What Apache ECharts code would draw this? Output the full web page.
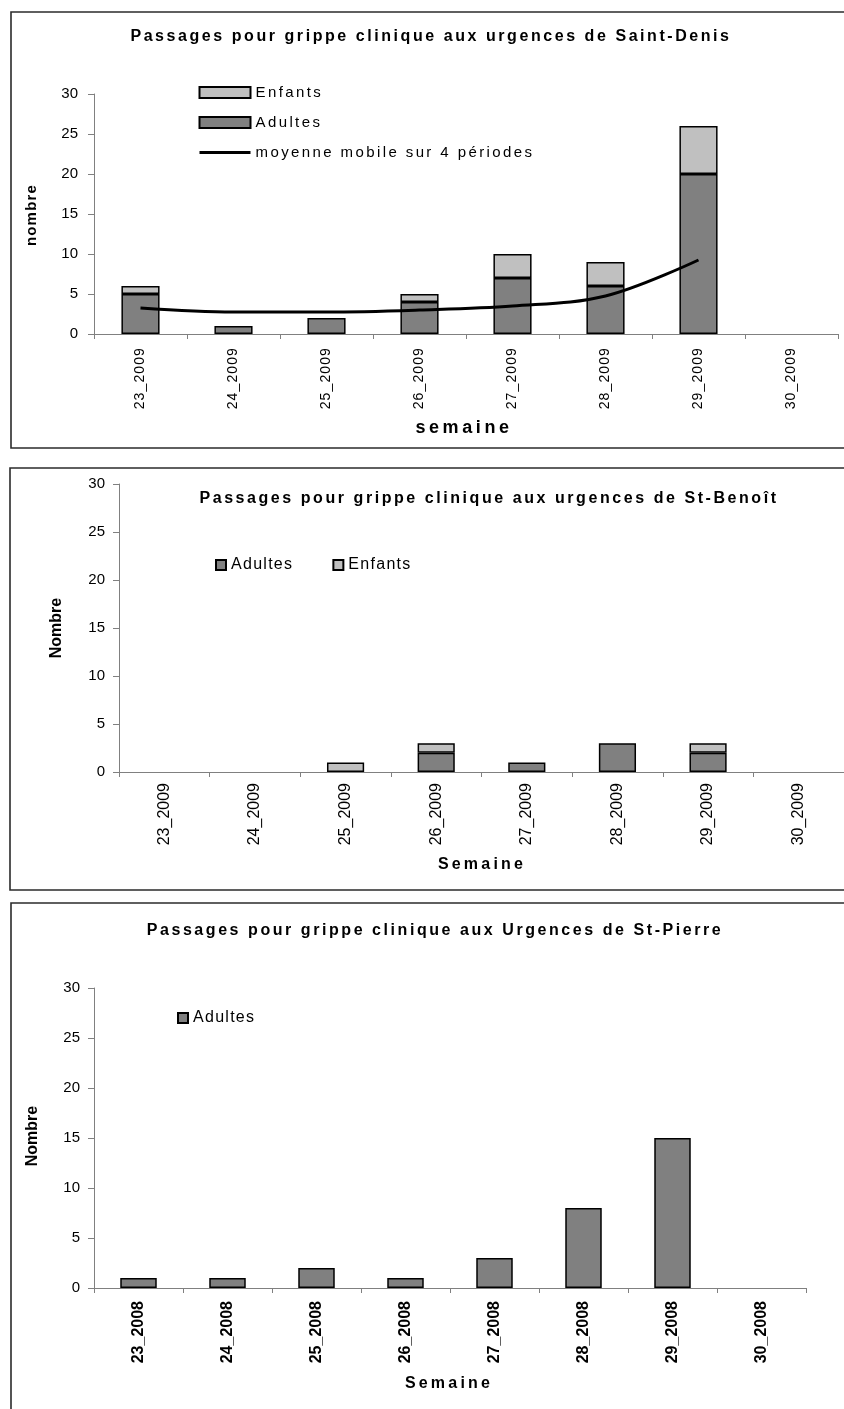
<!DOCTYPE html>
<html>
<head>
<meta charset="utf-8">
<script src="https://cdn.jsdelivr.net/npm/echarts@6/dist/echarts.min.js"></script>
<style>
html,body{margin:0;padding:0;background:#fff;}
#chart{width:844px;height:1409px;}
</style>
</head>
<body>
<div id="chart"></div>
<script>
// ---------------- DATA ----------------
const weeks2009 = ['23_2009','24_2009','25_2009','26_2009','27_2009','28_2009','29_2009','30_2009'];
const weeks2008 = ['23_2008','24_2008','25_2008','26_2008','27_2008','28_2008','29_2008','30_2008'];
const yMin = 0, yMax = 30, yStep = 5;

const titleStDenis = 'Passages pour grippe clinique aux urgences de Saint-Denis';
const titleStBenoit = 'Passages pour grippe clinique aux urgences de St-Benoît';
const titleStPierre = 'Passages pour grippe clinique aux Urgences de St-Pierre';

const stDenisAdultes = [5, 1, 2, 4, 7, 6, 20, null];
const stDenisEnfants = [1, 0, 0, 1, 3, 3, 6, null];
const stDenisMoyenne = [3.25, 2.75, 2.75, 3.0, 3.5, 4.75, 9.25, null];

const stBenoitAdultes = [0, 0, 0, 2, 1, 3, 2, null];
const stBenoitEnfants = [0, 0, 1, 1, 0, 0, 1, null];

const stPierreAdultes = [1, 1, 2, 1, 3, 8, 15, null];

// ---------------- TEXT SPACING (rendering tweak) ----------------
// Family token decides extra letter spacing (in em):
// Arial -> 0, Helvetica -> 0.08, Helvetica Neue -> 0.16, Liberation Sans alone -> 0.2
(function () {
  const proto = CanvasRenderingContext2D.prototype;
  function applySpacing(ctx) {
    if (!('letterSpacing' in ctx)) return;
    const f = ctx.font || '';
    const m = f.match(/(\d+(?:\.\d+)?)px/);
    const size = m ? parseFloat(m[1]) : 12;
    let k = 0;
    if (/Helvetica Neue/.test(f)) k = 0.16;
    else if (/Helvetica/.test(f)) k = 0.08;
    else if (/Arial/.test(f)) k = 0;
    else if (/Liberation/.test(f)) k = 0.2;
    ctx.letterSpacing = (size * k).toFixed(2) + 'px';
  }
  const of = proto.fillText, os = proto.strokeText;
  proto.fillText = function () { applySpacing(this); return of.apply(this, arguments); };
  proto.strokeText = function () { applySpacing(this); return os.apply(this, arguments); };
})();

const F0 = 'Arial, "Liberation Sans", sans-serif';
const F1 = 'Helvetica, "Liberation Sans", sans-serif';
const F15 = '"Helvetica Neue", "Liberation Sans", sans-serif';
const F2 = '"Liberation Sans", sans-serif';

const ADULT = '#808080', CHILD = '#C0C0C0', AXIS = '#808080';
const nz = a => a.map(v => (v === 0 ? null : v));

function yAxis(gi, fam, size, margin) {
  return {
    type: 'value', gridIndex: gi, min: yMin, max: yMax, interval: yStep,
    axisLine: { show: true, lineStyle: { color: AXIS, width: 1 } },
    axisTick: { show: true, inside: false, length: 6, lineStyle: { color: AXIS } },
    splitLine: { show: false },
    axisLabel: { color: '#000', fontFamily: fam, fontSize: size, margin: margin }
  };
}
function xAxis(gi, cats, fam, size, weight, margin) {
  return {
    type: 'category', gridIndex: gi, data: cats, boundaryGap: true,
    axisLine: { show: true, lineStyle: { color: AXIS, width: 1 } },
    axisTick: { show: true, alignWithLabel: false, length: 5, lineStyle: { color: AXIS } },
    axisLabel: { rotate: 90, interval: 0, color: '#000', fontFamily: fam, fontSize: size, fontWeight: weight, margin: margin },
    splitLine: { show: false }
  };
}
const barStyle = c => ({ color: c, borderColor: '#000', borderWidth: 1.5 });

function txt(text, x, y, size, fam, weight, rot) {
  return {
    type: 'text', x: x, y: y, rotation: rot || 0, z: 100,
    style: {
      text: text, fill: '#000', fontSize: size, fontFamily: fam, fontWeight: weight || 'normal',
      align: 'center', verticalAlign: 'middle', textAlign: 'center', textVerticalAlign: 'middle'
    }
  };
}
function box(x, y, w, h) {
  return { type: 'rect', shape: { x: x, y: y, width: w, height: h }, z: 0,
    style: { fill: 'none', stroke: '#2b2b2b', lineWidth: 1.6 } };
}

const chart = echarts.init(document.getElementById('chart'), null, { renderer: 'canvas' });

const option = {
  backgroundColor: '#fff',
  animation: false,
  grid: [
    { left: 94, top: 94, width: 744, height: 240 },
    { left: 119, top: 484, width: 736, height: 288 },
    { left: 94, top: 988, width: 712, height: 300 }
  ],
  xAxis: [
    xAxis(0, weeks2009, F1, 14, 'normal', 13),
    xAxis(1, weeks2009, F0, 16, 'normal', 11),
    xAxis(2, weeks2008, F0, 16, 'bold', 13)
  ],
  yAxis: [
    yAxis(0, F0, 15, 16),
    yAxis(1, F0, 15, 14),
    yAxis(2, F0, 15, 14)
  ],
  legend: [
    {
      orient: 'vertical', left: 198, top: 85, padding: 0, itemGap: 15,
      itemWidth: 51, itemHeight: 11,
      textStyle: { color: '#000', fontFamily: F15, fontSize: 15 },
      data: [
        { name: 'Enfants', icon: 'rect' },
        { name: 'Adultes', icon: 'rect' },
        { name: 'moyenne mobile sur 4 périodes', itemStyle: { opacity: 0 }, lineStyle: { width: 3, color: '#000' } }
      ]
    },
    {
      orient: 'horizontal', left: 215, top: 557, padding: 0, itemGap: 48,
      itemWidth: 10, itemHeight: 10,
      textStyle: { color: '#000', fontFamily: F1, fontSize: 16 },
      data: [{ name: 'Adultes', icon: 'rect' }, { name: 'Enfants', icon: 'rect' }]
    },
    {
      orient: 'horizontal', left: 177, top: 1010, padding: 0,
      itemWidth: 10, itemHeight: 10,
      textStyle: { color: '#000', fontFamily: F1, fontSize: 16 },
      data: [{ name: 'Adultes', icon: 'rect' }]
    }
  ],
  series: [
    { name: 'Adultes', type: 'bar', xAxisIndex: 0, yAxisIndex: 0, stack: 'sd', barWidth: '41%',
      itemStyle: barStyle(ADULT), data: nz(stDenisAdultes) },
    { name: 'Enfants', type: 'bar', xAxisIndex: 0, yAxisIndex: 0, stack: 'sd', barWidth: '41%',
      itemStyle: barStyle(CHILD), data: nz(stDenisEnfants) },
    { name: 'moyenne mobile sur 4 périodes', type: 'line', xAxisIndex: 0, yAxisIndex: 0,
      smooth: 0.35, symbol: 'none', showSymbol: false, z: 5,
      lineStyle: { color: '#000', width: 3 }, itemStyle: { color: '#000' },
      data: stDenisMoyenne },

    { name: 'Adultes', type: 'bar', xAxisIndex: 1, yAxisIndex: 1, stack: 'sb', barWidth: '41%',
      itemStyle: barStyle(ADULT), data: nz(stBenoitAdultes) },
    { name: 'Enfants', type: 'bar', xAxisIndex: 1, yAxisIndex: 1, stack: 'sb', barWidth: '41%',
      itemStyle: barStyle(CHILD), data: nz(stBenoitEnfants) },

    { name: 'Adultes', type: 'bar', xAxisIndex: 2, yAxisIndex: 2, barWidth: '41%',
      itemStyle: barStyle(ADULT), data: nz(stPierreAdultes) }
  ],
  graphic: [
    box(11, 12, 860, 436),
    box(10, 468, 860, 422),
    box(11, 903, 860, 540),
    txt(titleStDenis, 431, 37, 16, F15, 'bold'),
    txt('nombre', 32, 215, 15, F1, 'bold', Math.PI / 2),
    txt('semaine', 464, 428, 18, F2, 'bold'),
    txt(titleStBenoit, 489, 499, 16, F15, 'bold'),
    txt('Nombre', 57, 628, 16, F0, 'bold', Math.PI / 2),
    txt('Semaine', 482, 865, 16, F2, 'bold'),
    txt(titleStPierre, 435, 931, 16, F15, 'bold'),
    txt('Nombre', 33, 1136, 16, F0, 'bold', Math.PI / 2),
    txt('Semaine', 449, 1384, 16, F2, 'bold')
  ]
};
chart.setOption(option);
</script>
</body>
</html>
